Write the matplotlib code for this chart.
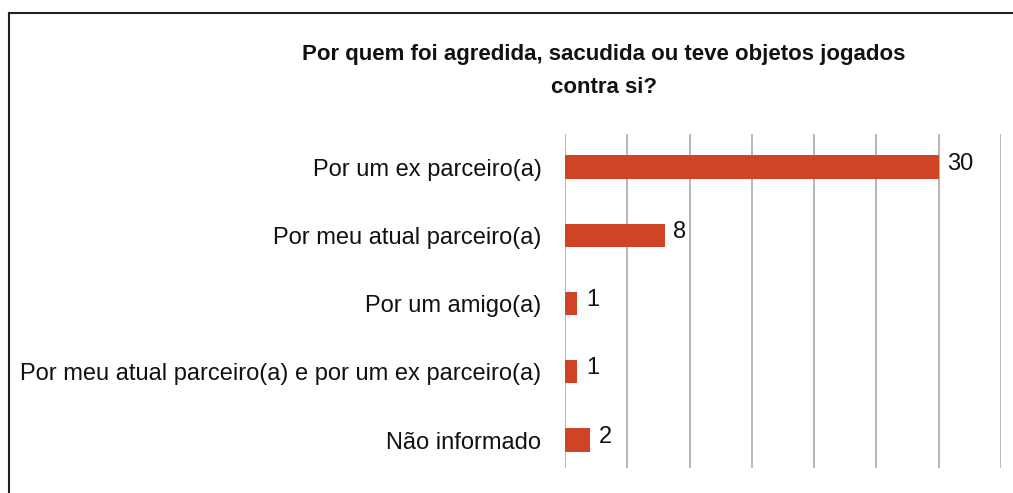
import matplotlib
matplotlib.use('Agg')
import matplotlib.pyplot as plt
from matplotlib.lines import Line2D

categorias = ['Por um ex parceiro(a)',
              'Por meu atual parceiro(a)',
              'Por um amigo(a)',
              'Por meu atual parceiro(a) e por um ex parceiro(a)',
              'Não informado']
valores = [30, 8, 1, 1, 2]
titulo = 'Por quem foi agredida, sacudida ou teve objetos jogados\ncontra si?'

plt.rcParams['font.family'] = ['Liberation Sans', 'DejaVu Sans']

fig = plt.figure(figsize=(10.13, 4.93), dpi=100)
ax = fig.add_axes([565 / 1013, 1 - 468 / 493, (1001 - 565) / 1013, (468 - 134) / 493])

pos = list(range(len(categorias)))
ax.barh(pos, valores, height=0.34, color='#CF4327', zorder=3)
for p, v in zip(pos, valores):
    ax.text(v + 0.7, p - 0.05, str(v), va='center', ha='left', fontsize=17, color='#111111')

ax.set_xlim(0, 35)
ax.set_ylim(4.41, -0.484)
ax.set_xticks(range(0, 36, 5))
ax.xaxis.grid(True, color='#AAAAAA', linewidth=1.2, zorder=0)
ax.tick_params(axis='x', length=0, labelbottom=False)
ax.tick_params(axis='y', length=0, pad=17, labelsize=17)
ax.set_yticks(pos)
ax.set_yticklabels(categorias, color='#111111')
for s in ax.spines.values():
    s.set_visible(False)

fig.text(604 / 1013, 1 - 71 / 493, titulo, ha='center', va='center', fontsize=16,
         fontweight='bold', linespacing=1.7, color='#111111')

# moldura
fig.add_artist(Line2D([9 / 1013, 9 / 1013], [0, 1 - 13 / 493], transform=fig.transFigure,
                      color='#222222', linewidth=1.5))
fig.add_artist(Line2D([9 / 1013, 1], [1 - 13 / 493, 1 - 13 / 493], transform=fig.transFigure,
                      color='#222222', linewidth=1.5))

fig.savefig('out.png', dpi=100)
